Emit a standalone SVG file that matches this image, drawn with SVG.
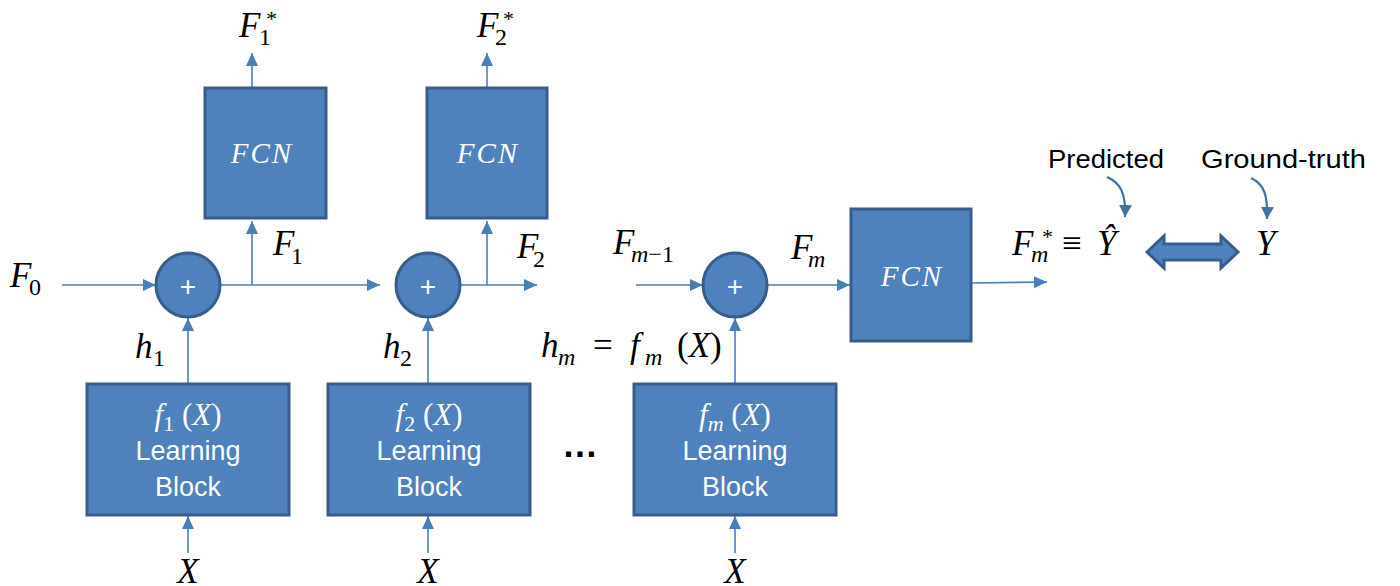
<svg xmlns="http://www.w3.org/2000/svg" width="1400" height="586" viewBox="0 0 1400 586">
<defs>
<style>
.box{fill:#4f81bd;stroke:#385d8a;stroke-width:3}
.conn{stroke:#4a7ebb;stroke-width:1.6;fill:none;marker-end:url(#ah)}
.curv{stroke:#41719c;stroke-width:2.2;fill:none;marker-end:url(#ah2)}
.m{font-family:"Liberation Serif","Times New Roman",serif;font-style:italic;font-size:35px;fill:#000}
.up{font-style:normal}
.wm{font-family:"Liberation Serif","Times New Roman",serif;font-style:italic;font-size:31px;fill:#fff}
.fcn{font-family:"Liberation Serif","Times New Roman",serif;font-style:italic;font-size:29px;letter-spacing:2px;fill:#fff;text-anchor:middle}
.lb{font-family:"Liberation Sans",Arial,sans-serif;font-size:27px;fill:#fff;text-anchor:middle}
.lbl{font-family:"Liberation Sans",Arial,sans-serif;font-size:26px;fill:#000}
.plus{font-family:"Liberation Sans",Arial,sans-serif;font-size:28px;fill:#fff;text-anchor:middle}
</style>
<marker id="ah" markerUnits="userSpaceOnUse" markerWidth="14" markerHeight="12" refX="13" refY="6" orient="auto">
<path d="M0,0 L13,6 L0,12 z" fill="#4a7ebb"/>
</marker>
<marker id="ah2" markerUnits="userSpaceOnUse" markerWidth="14" markerHeight="13" refX="12" refY="6.5" orient="auto">
<path d="M0,0 L12,6.5 L0,13 z" fill="#41719c"/>
</marker>
</defs>

<g id="connectors">
<line class="conn" x1="62" y1="285" x2="156" y2="285"/>
<line class="conn" x1="220" y1="285" x2="380" y2="285"/>
<line class="conn" x1="252" y1="285" x2="252" y2="221"/>
<line class="conn" x1="252" y1="87" x2="252" y2="53"/>
<line class="conn" x1="460" y1="285" x2="537" y2="285"/>
<line class="conn" x1="487" y1="285" x2="487" y2="221"/>
<line class="conn" x1="487" y1="87" x2="487" y2="53"/>
<line class="conn" x1="636" y1="285" x2="703" y2="285"/>
<line class="conn" x1="767" y1="285" x2="850" y2="285"/>
<line class="conn" x1="972" y1="283" x2="1047" y2="282"/>
<line class="conn" x1="188" y1="384" x2="188" y2="318"/>
<line class="conn" x1="428" y1="384" x2="428" y2="318"/>
<line class="conn" x1="735" y1="384" x2="735" y2="318"/>
<line class="conn" x1="188" y1="553" x2="188" y2="516"/>
<line class="conn" x1="428" y1="553" x2="428" y2="516"/>
<line class="conn" x1="735" y1="553" x2="735" y2="516"/>
<path class="curv" d="M1107,177 C1121,183 1126,194 1125,217"/>
<path class="curv" d="M1251,178 C1264,184 1268,195 1267,219"/>
</g>

<g id="fcn1"><rect class="box" x="205" y="88" width="121" height="130"/><text class="fcn" x="262" y="163">FCN</text></g>
<g id="fcn2"><rect class="box" x="427" y="88" width="120" height="130"/><text class="fcn" x="488" y="163">FCN</text></g>
<g id="fcn3"><rect class="box" x="851" y="209" width="120" height="132"/><text class="fcn" x="912" y="286">FCN</text></g>

<g id="sum1"><circle class="box" cx="188" cy="285" r="32"/><text class="plus" x="188" y="296">+</text></g>
<g id="sum2"><circle class="box" cx="428" cy="285" r="32"/><text class="plus" x="428" y="296">+</text></g>
<g id="summ"><circle class="box" cx="735" cy="285" r="32"/><text class="plus" x="735" y="296">+</text></g>

<g id="block1"><rect class="box" x="87" y="384" width="202" height="131"/>
<text class="wm" x="188" y="425" text-anchor="middle">f<tspan class="up" font-size="22" dy="6">1</tspan><tspan class="up" dy="-6"> (</tspan>X<tspan class="up">)</tspan></text>
<text class="lb" x="188" y="460">Learning</text><text class="lb" x="188" y="496">Block</text></g>
<g id="block2"><rect class="box" x="328" y="384" width="202" height="131"/>
<text class="wm" x="429" y="425" text-anchor="middle">f<tspan class="up" font-size="22" dy="6">2</tspan><tspan class="up" dy="-6"> (</tspan>X<tspan class="up">)</tspan></text>
<text class="lb" x="429" y="460">Learning</text><text class="lb" x="429" y="496">Block</text></g>
<g id="blockm"><rect class="box" x="634" y="384" width="202" height="131"/>
<text class="wm" x="735" y="425" text-anchor="middle">f<tspan font-size="22" dy="6">m</tspan><tspan class="up" dy="-6"> (</tspan>X<tspan class="up">)</tspan></text>
<text class="lb" x="735" y="460">Learning</text><text class="lb" x="735" y="496">Block</text></g>

<g id="dots"><text x="580" y="457" font-family="'Liberation Sans',Arial,sans-serif" font-size="36" font-weight="bold" text-anchor="middle" fill="#000" textLength="28" lengthAdjust="spacing">…</text></g>

<g id="labels">
<text class="m" x="10" y="287">F<tspan class="up" font-size="24" x="29" y="295">0</tspan></text>
<text class="m" x="239" y="37">F<tspan class="up" font-size="24" x="259" y="45">1</tspan><tspan class="up" font-size="22" x="266" y="26">*</tspan></text>
<text class="m" x="477" y="37">F<tspan class="up" font-size="24" x="495" y="45">2</tspan><tspan class="up" font-size="22" x="503" y="26">*</tspan></text>
<text class="m" x="273" y="255">F<tspan class="up" font-size="24" x="291" y="264">1</tspan></text>
<text class="m" x="517" y="258">F<tspan class="up" font-size="24" x="533" y="267">2</tspan></text>
<text class="m" x="135" y="358">h<tspan class="up" font-size="24" x="153" y="366">1</tspan></text>
<text class="m" x="383" y="358">h<tspan class="up" font-size="24" x="400" y="366">2</tspan></text>
<text class="m" x="541" y="357">h<tspan font-size="24" x="558" y="365">m</tspan><tspan class="up" x="593" y="357">=</tspan><tspan x="630" y="357">f</tspan><tspan font-size="24" x="645" y="365">m</tspan><tspan class="up" x="677" y="357">(</tspan>X<tspan class="up">)</tspan></text>
<text class="m" x="613" y="254">F<tspan font-size="24" x="631" y="262">m</tspan><tspan class="up" font-size="24">−1</tspan></text>
<text class="m" x="791" y="259">F<tspan font-size="24" x="808" y="267">m</tspan></text>
<text class="m" x="1012" y="255">F<tspan font-size="24" x="1031" y="262">m</tspan><tspan class="up" font-size="22" x="1042" y="244">*</tspan><tspan class="up" x="1062" y="255">≡</tspan><tspan x="1097" y="255">Ŷ</tspan></text>
<text class="m" x="1256" y="255">Y</text>
<text class="m" x="188" y="583" text-anchor="middle">X</text>
<text class="m" x="428" y="583" text-anchor="middle">X</text>
<text class="m" x="735" y="583" text-anchor="middle">X</text>
<text class="lbl" x="1048" y="168" textLength="116" lengthAdjust="spacingAndGlyphs">Predicted</text>
<text class="lbl" x="1201" y="168" textLength="165" lengthAdjust="spacingAndGlyphs">Ground-truth</text>
</g>

<g id="compare"><polygon points="1147,252 1164,236 1164,244 1221,244 1221,236 1238,252 1221,268 1221,260 1164,260 1164,268" fill="#4f81bd" stroke="#385d8a" stroke-width="3" stroke-linejoin="miter"/></g>
</svg>
